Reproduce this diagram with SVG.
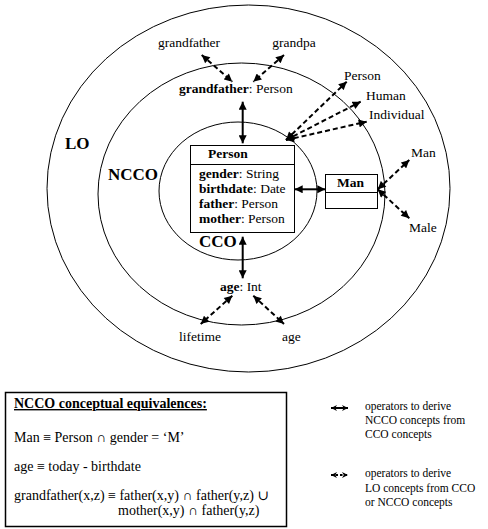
<svg xmlns="http://www.w3.org/2000/svg" width="488" height="529" viewBox="0 0 488 529" font-family="'Liberation Serif', 'Times New Roman', 'DejaVu Serif', serif">
<style>
text{font-family:'Liberation Serif','Times New Roman','DejaVu Serif',serif;fill:#000}
.l{font-size:13.5px}
.b{font-weight:bold}
.big{font-size:17px;font-weight:bold}
.eq{font-size:14px}
.lg{font-size:11.5px}
.ring{fill:none;stroke:#000;stroke-width:1}
.box{fill:#fff;stroke:#000;stroke-width:1}
.sol{stroke:#000;stroke-width:2;fill:none;marker-start:url(#ah);marker-end:url(#ah)}
.das{stroke:#000;stroke-width:2;fill:none;stroke-dasharray:5 3;marker-start:url(#ah);marker-end:url(#ah)}
.lsol{stroke:#000;stroke-width:2;fill:none;marker-start:url(#sh);marker-end:url(#sh)}
</style>
<defs>
<marker id="ah" viewBox="0 0 10 10" refX="10" refY="5" markerWidth="9" markerHeight="8" markerUnits="userSpaceOnUse" orient="auto-start-reverse">
<path d="M0,0 L10,5 L0,10 z" fill="#000"/>
</marker>
<marker id="sh" viewBox="0 0 10 10" refX="10" refY="5" markerWidth="6" markerHeight="7" markerUnits="userSpaceOnUse" orient="auto-start-reverse">
<path d="M0,0 L10,5 L0,10 L3,5 z" fill="#000"/>
</marker>
</defs>
<rect width="488" height="529" fill="#fff"/>
<g id="rings">
<ellipse id="lo-ring" class="ring" cx="248.5" cy="188.5" rx="201.5" ry="183.5"/>
<ellipse id="ncco-ring" class="ring" cx="241.5" cy="194" rx="143.5" ry="131"/>
<ellipse id="cco-ring" class="ring" cx="238" cy="191" rx="79" ry="69"/>
</g>
<g id="ring-labels">
<text class="big" x="65" y="149">LO</text>
<text class="big" x="108" y="180">NCCO</text>
<text class="big" x="199" y="247">CCO</text>
</g>
<g id="node-person">
<rect class="box" x="190.5" y="145.5" width="104" height="87"/>
<line x1="190.5" y1="164.5" x2="294.5" y2="164.5" stroke="#000"/>
<text class="l b" x="208" y="158">Person</text>
<text class="l" x="199" y="178"><tspan class="b">gender</tspan>: String</text>
<text class="l" x="199" y="193"><tspan class="b">birthdate</tspan>: Date</text>
<text class="l" x="199" y="208"><tspan class="b">father</tspan>: Person</text>
<text class="l" x="199" y="223"><tspan class="b">mother</tspan>: Person</text>
</g>
<g id="node-man">
<rect class="box" x="325.5" y="174.5" width="52" height="34"/>
<line x1="325.5" y1="192.5" x2="377.5" y2="192.5" stroke="#000"/>
<text class="l b" x="337" y="187">Man</text>
</g>
<g id="node-grandfather"><text class="l" x="179" y="93"><tspan class="b">grandfather</tspan>: Person</text></g>
<g id="node-age"><text class="l" x="220" y="291"><tspan class="b">age</tspan>: Int</text></g>
<g id="node-lo-grandfather"><text class="l" x="189" y="47" text-anchor="middle">grandfather</text></g>
<g id="node-lo-grandpa"><text class="l" x="294" y="47" text-anchor="middle">grandpa</text></g>
<g id="node-lo-person"><text class="l" x="344" y="80">Person</text></g>
<g id="node-lo-human"><text class="l" x="366" y="100">Human</text></g>
<g id="node-lo-individual"><text class="l" x="369" y="119">Individual</text></g>
<g id="node-lo-man"><text class="l" x="411" y="157">Man</text></g>
<g id="node-lo-male"><text class="l" x="409" y="232">Male</text></g>
<g id="node-lo-lifetime"><text class="l" x="179" y="341">lifetime</text></g>
<g id="node-lo-age"><text class="l" x="282" y="341">age</text></g>
<g id="connectors">
<line class="das" x1="201.7" y1="55" x2="232.3" y2="81.7"/>
<line class="das" x1="284" y1="55" x2="253.3" y2="81.7"/>
<line class="sol" x1="242.7" y1="101.7" x2="242.7" y2="143.3"/>
<line class="sol" x1="294.7" y1="189.3" x2="325.3" y2="189.3"/>
<line class="sol" x1="242.7" y1="236.7" x2="242.7" y2="278.3"/>
<line class="das" x1="232.3" y1="295.7" x2="200.7" y2="324"/>
<line class="das" x1="253.3" y1="295.7" x2="284" y2="324"/>
<line class="das" x1="286" y1="140" x2="346.7" y2="81.7"/>
<line class="das" x1="286" y1="140" x2="360.7" y2="101.7"/>
<line class="das" x1="286" y1="140" x2="366.7" y2="121.7"/>
<line class="das" x1="377.7" y1="189.3" x2="409.3" y2="160"/>
<line class="das" x1="377.7" y1="189.3" x2="409.3" y2="218.3"/>
</g>
<g id="equivalences">
<rect x="5.5" y="392.5" width="281" height="134" fill="#fff" stroke="#000" stroke-width="1.5"/>
<text class="eq b" x="14" y="408" text-decoration="underline">NCCO conceptual equivalences:</text>
<text class="eq" x="14" y="442">Man ≡ Person ∩ gender = ‘M’</text>
<text class="eq" x="14" y="471">age ≡ today - birthdate</text>
<text class="eq" x="14" y="500">grandfather(x,z) ≡ father(x,y) ∩ father(y,z) ∪</text>
<text class="eq" x="118" y="515">mother(x,y) ∩ father(y,z)</text>
</g>
<g id="legend">
<line class="lsol" x1="331" y1="408" x2="348" y2="408"/>
<text class="lg" x="365" y="410">operators to derive</text>
<text class="lg" x="365" y="424">NCCO concepts from</text>
<text class="lg" x="365" y="438">CCO concepts</text>
<line class="lsol" x1="331" y1="475" x2="348" y2="475" stroke-dasharray="2.5 2"/>
<text class="lg" x="365" y="477">operators to derive</text>
<text class="lg" x="365" y="492">LO concepts from CCO</text>
<text class="lg" x="365" y="506">or NCCO concepts</text>
</g>
</svg>
